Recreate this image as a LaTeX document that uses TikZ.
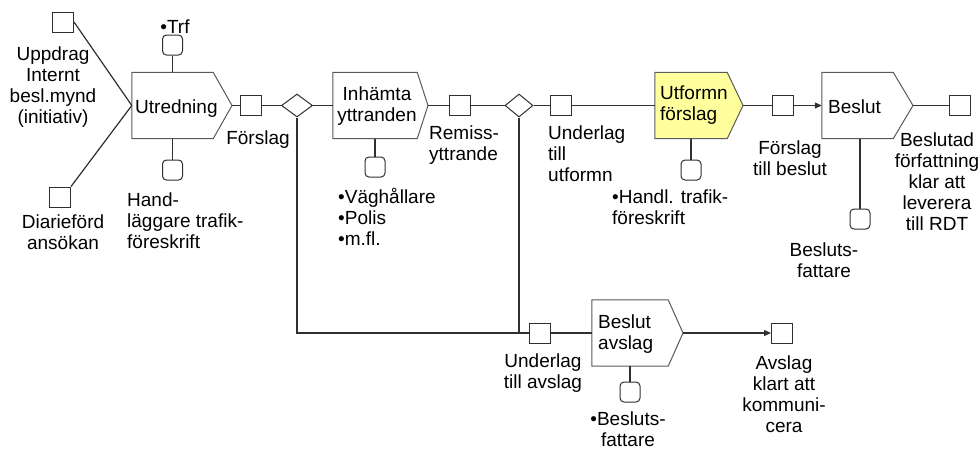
\documentclass[tikz,border=0pt]{standalone}
\usepackage{fontspec}
\setmainfont{Liberation Sans}
\usetikzlibrary{arrows.meta,shapes.geometric,backgrounds,calc}
\definecolor{fnfill}{HTML}{FFFF9E}
\definecolor{lc}{HTML}{303030}
\definecolor{bc}{HTML}{5A5A5A}
\newcommand\firstrule{\rule{0pt}{16pt}}
\tikzset{
  lbl/.style={inner sep=0pt, font=\fontsize{19}{21}\selectfont, execute at begin node=\firstrule},
  evt/.style={draw=lc, line width=1pt, minimum width=21pt, minimum height=20pt, inner sep=0pt, fill=white},
  org/.style={draw=lc, line width=1pt, rounded corners=4pt, minimum width=20pt, minimum height=20pt, inner sep=0pt, fill=white},
  gate/.style={diamond, draw=lc, line width=1pt, minimum width=31pt, minimum height=23pt, inner sep=0pt, fill=white},
  fnrect/.style={draw=none, inner sep=0pt},
  conn/.style={draw=lc, line width=1.2pt},
  arr/.style={conn, -{Triangle[length=7pt,width=6pt]}},
}
\newcommand\fnbox[7]{%
  \node[fnrect, minimum width={(#4-#2)*1pt}, minimum height={(#5-#3)*1pt}] (#1) at ({(#2+#4)/2},{(#3+#5)/2}) {};
  \coordinate (#1-t) at (#6,{(#3+#5)/2});
  \begin{scope}[on background layer]
    \filldraw[draw=bc, fill=#7, line width=1pt, line join=miter] (#1.north west) -- (#1.north east) -- (#1-t) -- (#1.south east) -- (#1.south west) -- cycle;
  \end{scope}
}
\begin{document}
\begin{tikzpicture}[x=1pt,y=-1pt]
\useasboundingbox (0,0) rectangle (980,450);
\begin{scope}[on background layer]
\fill[white] (0,0) rectangle (980,450);
\end{scope}

% function boxes
\fnbox{utr}{132}{72.5}{213}{138.5}{232}{white}
\fnbox{inh}{333}{72.5}{417}{138.5}{428}{white}
\fnbox{utf}{655}{72.5}{727}{138.5}{743}{fnfill}
\fnbox{bes}{822}{72.5}{893}{138.5}{913}{white}
\fnbox{bav}{592}{300}{668}{366}{683}{white}

\node[lbl, anchor=north west] (utr-l) at (135,97.6) {Utredning};
\node[lbl, anchor=north, align=center] (inh-l) at (377,87) {Inhämta\\yttranden};
\node[lbl, anchor=north west, align=left] (utf-l) at (660,86) {Utformn\\förslag};
\node[lbl, anchor=north west] (bes-l) at (828,97) {Beslut};
\node[lbl, anchor=north west, align=left] (bav-l) at (598,315) {Beslut\\avslag};

% events
\node[evt] (e1) at (63,22) {};
\node[evt] (e2) at (60,197) {};
\node[evt] (e3) at (251,105.5) {};
\node[evt] (e4) at (460,105.5) {};
\node[evt] (e5) at (561,105.5) {};
\node[evt] (e6) at (783,105.5) {};
\node[evt] (e7) at (960,105.5) {};
\node[evt] (e8) at (540,333) {};
\node[evt] (e9) at (782,333) {};

% org units
\node[org] (o1) at (172.5,45) {};
\node[org] (o2) at (172.5,170) {};
\node[org] (o3) at (375,167) {};
\node[org] (o4) at (691,170) {};
\node[org] (o5) at (860,219) {};
\node[org] (o6) at (630,392) {};

% gates
\node[gate] (d1) at (297,105.5) {};
\node[gate, minimum width=28pt] (d2) at (519,105.5) {};

% connectors
\draw[conn] (e1.east) -- (utr.west);
\draw[conn] (e2.north east) -- (utr.west);
\draw[conn] (utr.north) -- (o1.south);
\draw[conn] (utr.south) -- (o2.north);
\draw[conn] (utr-t) -- (e3.west);
\draw[conn] (e3.east) -- (d1.west);
\draw[conn] (d1.east) -- (inh.west);
\draw[conn] (inh.south) -- (o3.north);
\draw[conn] (inh-t) -- (e4.west);
\draw[conn] (e4.east) -- (d2.west);
\draw[conn] (d2.east) -- (e5.west);
\draw[conn] (e5.east) -- (utf.west);
\draw[conn] (utf.south) -- (o4.north);
\draw[conn] (utf-t) -- (e6.west);
\draw[arr] (e6.east) -- (bes.west);
\draw[conn] (o5.north) -- (o5.north |- bes.south);
\draw[conn] (bes-t) -- (e7.west);
\draw[conn] (d1.south) |- (e8.west);
\draw[conn] (d2.south) -- (d2.south |- e8.west);
\draw[conn] (e8.east) -- (bav.west);
\draw[conn] (bav.south) -- (o6.north);
\draw[arr] (bav-t) -- (e9.west);

% labels
\node[lbl, anchor=north, align=center] (t1) at (53,46.6) {Uppdrag\\Internt\\besl.mynd\\(initiativ)};
\node[lbl, anchor=north, align=center] (t2) at (63,215) {Diarieförd\\ansökan};
\node[lbl, anchor=north] (t3) at (175,17.6) {•Trf};
\node[lbl, anchor=north west, align=left] (t4) at (127,192.6) {Hand-\\läggare trafik-\\föreskrift};
\node[lbl, anchor=north] (t5) at (258,128.6) {Förslag};
\node[lbl, anchor=north west, align=left] (t6) at (429,126) {Remiss-\\yttrande};
\node[lbl, anchor=north west, align=left] (t7) at (338,188.3) {•Väghållare\\•Polis\\•m.fl.};
\node[lbl, anchor=north west, align=left] (t8) at (548,126) {Underlag\\till\\utformn};
\node[lbl, anchor=north west, align=left] (t9) at (612,189.3) {•Handl. trafik-\\föreskrift};
\node[lbl, anchor=north, align=center] (t10) at (790,141) {Förslag\\till beslut};
\node[lbl, anchor=north, align=center] (t11) at (824,242.6) {Besluts-\\fattare};
\node[lbl, anchor=north, align=center] (t12) at (937,132.5) {Beslutad\\författning\\klar att\\leverera\\till RDT};
\node[lbl, anchor=north, align=center] (t13) at (543,353.6) {Underlag\\till avslag};
\node[lbl, anchor=north, align=center] (t14) at (628,411.6) {•Besluts-\\fattare};
\node[lbl, anchor=north, align=center] (t15) at (784,356) {Avslag\\klart att\\kommuni-\\cera};
\end{tikzpicture}
\end{document}
